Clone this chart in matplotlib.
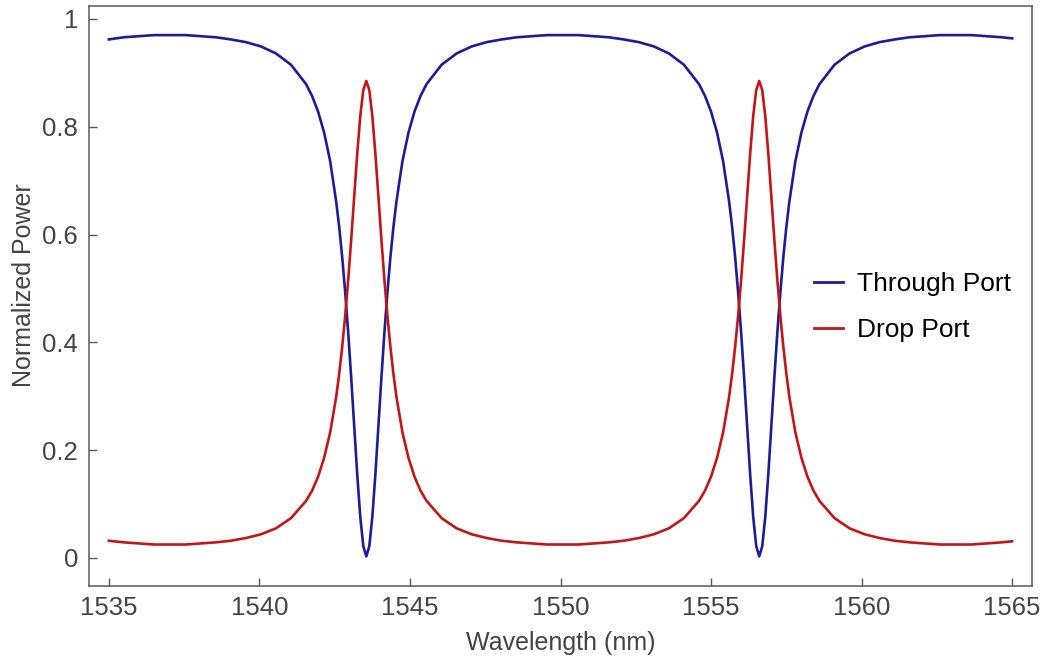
import numpy as np
import matplotlib
matplotlib.use("Agg")
import matplotlib.pyplot as plt
from matplotlib.ticker import FixedLocator, FuncFormatter

# transmission spectrum of the add-drop ring, read on a wavelength grid
wavelength_nm = [
    1535.0, 1535.5, 1536.0, 1536.5, 1537.0, 1537.55, 1538.05, 1538.55, 1539.05,
    1539.55, 1540.05, 1540.55, 1541.05, 1541.55, 1541.75, 1541.95, 1542.15,
    1542.35, 1542.55, 1542.65, 1542.75, 1542.85, 1542.95, 1543.05, 1543.15,
    1543.25, 1543.35, 1543.45, 1543.55, 1543.65, 1543.75, 1543.85, 1543.95,
    1544.05, 1544.15, 1544.25, 1544.35, 1544.45, 1544.55, 1544.75, 1544.95,
    1545.15, 1545.35, 1545.55, 1546.05, 1546.55, 1547.05, 1547.55, 1548.05,
    1548.55, 1549.05, 1549.55, 1550.05,
    1550.6, 1551.1, 1551.6, 1552.1, 1552.6, 1553.1, 1553.6, 1554.1, 1554.6,
    1554.8, 1555.0, 1555.2, 1555.4, 1555.6, 1555.7, 1555.8, 1555.9, 1556.0,
    1556.1, 1556.2, 1556.3, 1556.4, 1556.5, 1556.6, 1556.7, 1556.8, 1556.9,
    1557.0, 1557.1, 1557.2, 1557.3, 1557.4, 1557.5, 1557.6, 1557.8, 1558.0,
    1558.2, 1558.4, 1558.6, 1559.1, 1559.6, 1560.1, 1560.6, 1561.1, 1561.6,
    1562.1, 1562.6, 1563.1, 1563.65, 1564.15, 1564.65, 1565.0,
]

through_port = [
    0.962, 0.966, 0.968, 0.970, 0.970, 0.970, 0.968, 0.966, 0.962,
    0.957, 0.949, 0.936, 0.915, 0.879, 0.857, 0.828, 0.789,
    0.736, 0.661, 0.614, 0.558, 0.492, 0.417, 0.333, 0.243,
    0.154, 0.076, 0.022, 0.003, 0.022, 0.076, 0.154, 0.243,
    0.333, 0.417, 0.492, 0.558, 0.614, 0.661, 0.736, 0.789,
    0.828, 0.857, 0.879, 0.915, 0.936, 0.949, 0.957, 0.962,
    0.966, 0.968, 0.970, 0.970,
    0.970, 0.968, 0.966, 0.962, 0.957, 0.949, 0.936, 0.915, 0.879,
    0.857, 0.828, 0.789, 0.736, 0.661, 0.614, 0.558, 0.492, 0.417,
    0.333, 0.243, 0.154, 0.076, 0.022, 0.003, 0.022, 0.076, 0.154,
    0.243, 0.333, 0.417, 0.492, 0.558, 0.614, 0.661, 0.736, 0.789,
    0.828, 0.857, 0.879, 0.915, 0.936, 0.949, 0.957, 0.962, 0.966,
    0.968, 0.970, 0.970, 0.970, 0.968, 0.966, 0.964,
]

drop_port = [
    0.032, 0.029, 0.027, 0.025, 0.025, 0.025, 0.027, 0.029, 0.032,
    0.037, 0.044, 0.055, 0.074, 0.106, 0.125, 0.151, 0.186,
    0.233, 0.299, 0.342, 0.392, 0.450, 0.517, 0.592, 0.672,
    0.751, 0.820, 0.868, 0.885, 0.868, 0.820, 0.751, 0.672,
    0.592, 0.517, 0.450, 0.392, 0.342, 0.299, 0.233, 0.186,
    0.151, 0.125, 0.106, 0.074, 0.055, 0.044, 0.037, 0.032,
    0.029, 0.027, 0.025, 0.025,
    0.025, 0.027, 0.029, 0.032, 0.037, 0.044, 0.055, 0.074, 0.106,
    0.125, 0.151, 0.186, 0.233, 0.299, 0.342, 0.392, 0.450, 0.517,
    0.592, 0.672, 0.751, 0.820, 0.868, 0.885, 0.868, 0.820, 0.751,
    0.672, 0.592, 0.517, 0.450, 0.392, 0.342, 0.299, 0.233, 0.186,
    0.151, 0.125, 0.106, 0.074, 0.055, 0.044, 0.037, 0.032, 0.029,
    0.027, 0.025, 0.025, 0.025, 0.027, 0.029, 0.031,
]

x_ticks = [1535, 1540, 1545, 1550, 1555, 1560, 1565]
y_ticks = [0, 0.2, 0.4, 0.6, 0.8, 1.0]

plt.rcParams["font.family"] = ["Liberation Sans", "DejaVu Sans"]

fig = plt.figure(figsize=(10.47, 6.67), dpi=100)
ax = fig.add_axes([0.085, 0.1214, 0.9007, 0.8696])

ax.plot(wavelength_nm, through_port, color="#1c1c9c", lw=1.9,
        label="Through Port", solid_joinstyle="round")
ax.plot(wavelength_nm, drop_port, color="#c41616", lw=1.9,
        label="Drop Port", solid_joinstyle="round")

ax.set_xlim(1534.34, 1565.66)
ax.set_ylim(-0.052, 1.024)

ax.xaxis.set_major_locator(FixedLocator(x_ticks))
ax.yaxis.set_major_locator(FixedLocator(y_ticks))
ax.yaxis.set_major_formatter(FuncFormatter(lambda v, p: f"{v:g}"))

frame_color = "#5a5a5a"
text_color = "#444444"
for side in ax.spines.values():
    side.set_color(frame_color)
    side.set_linewidth(1.1)

ax.tick_params(axis="both", direction="in", length=6, width=1.0,
               color=frame_color, labelcolor=text_color, labelsize=18.5,
               top=False, right=False)
ax.tick_params(axis="x", pad=7)
ax.tick_params(axis="y", pad=8)

ax.set_xlabel("Wavelength (nm)", fontsize=18, color=text_color, labelpad=8)
ax.set_ylabel("Normalized Power", fontsize=18, color=text_color)
ax.yaxis.set_label_coords(-0.056, 0.519)

leg = ax.legend(loc="center left", bbox_to_anchor=(0.744, 0.481),
                frameon=False, fontsize=19, handlelength=1.1,
                handletextpad=0.5, labelspacing=0.85)
for line in leg.get_lines():
    line.set_linewidth(2.0)

fig.savefig("out.png", dpi=100)
